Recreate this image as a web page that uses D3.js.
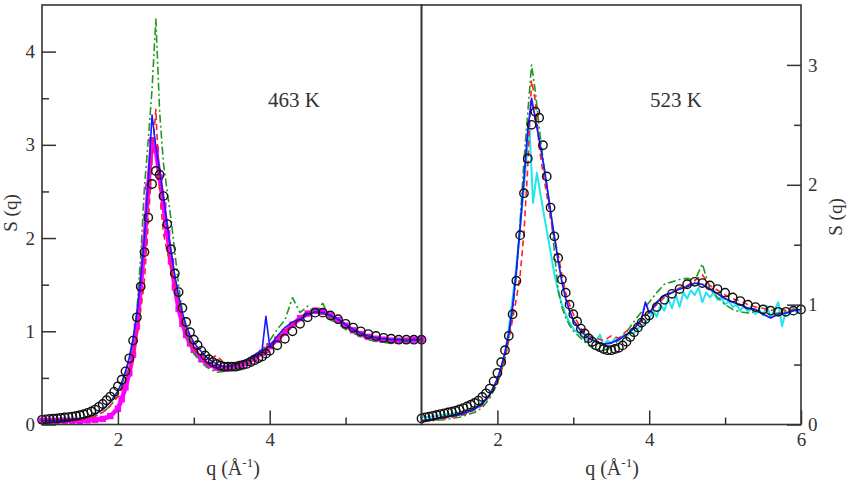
<!DOCTYPE html>
<html>
<head>
<meta charset="utf-8">
<title>S(q) 463 K / 523 K</title>
<style>
  body { margin: 0; background: #fff; }
  text { font-family: "Liberation Serif", "Times New Roman", Times, Tinos, "DejaVu Serif", "Noto Serif", serif; fill: #333; }
</style>
</head>
<body>
<script src="https://d3js.org/d3.v7.min.js"></script>
<script>
// q grids (1/A)
const qCirc = [1.00,1.05,1.10,1.15,1.20,1.25,1.30,1.35,1.40,1.45,1.50,1.55,1.60,1.65,1.70,1.75,1.80,1.85,1.90,1.95,
  2.00,2.05,2.10,2.15,2.20,2.25,2.30,2.35,2.40,2.45,2.50,2.55,2.60,2.65,2.70,2.75,2.80,2.85,2.90,2.95,3.00,
  3.05,3.10,3.15,3.20,3.25,3.30,3.35,3.40,3.45,3.50,3.55,3.60,3.65,3.70,3.75,3.80,3.85,3.90,3.95,4.00,
  4.1,4.2,4.3,4.4,4.5,4.6,4.7,4.8,4.9,5.0,5.1,5.2,5.3,5.4,5.5,5.6,5.7,5.8,5.9,6.0];
const qLine = [1.0,1.1,1.2,1.3,1.4,1.5,1.6,1.7,1.8,1.9,2.0,
  2.05,2.1,2.15,2.2,2.25,2.3,2.35,2.4,2.45,2.5,
  2.55,2.6,2.65,2.7,2.75,2.8,2.85,2.9,2.95,3.0,
  3.1,3.2,3.3,3.4,3.5,3.6,3.7,3.8,3.9,3.95,
  4.0,4.1,4.2,4.3,4.4,4.5,4.6,4.7,4.8,4.9,5.0,
  5.1,5.2,5.3,5.4,5.5,5.6,5.7,5.8,5.9,6.0];
const qCyan = [1.0,1.1,1.2,1.3,1.4,1.5,1.6,1.7,1.8,1.9,2.0,
  2.05,2.1,2.15,2.2,2.25,2.3,2.35,2.42,2.47,2.52,
  2.56,2.6,2.65,2.7,2.75,2.8,2.85,2.9,2.95,3.0,
  3.05,3.1,3.15,3.2,3.25,3.3,3.35,3.4,3.45,3.5,
  3.55,3.6,3.65,3.7,3.75,3.8,3.85,3.9,3.95,4.0,
  4.05,4.1,4.15,4.2,4.25,4.3,4.35,4.4,4.45,4.5,
  4.55,4.6,4.65,4.7,4.75,4.8,4.85,4.9,4.95,5.0,
  5.05,5.1,5.15,5.2,5.25,5.3,5.35,5.4,5.45,5.5,
  5.55,5.6,5.65,5.7,5.75,5.8,5.85,5.9,5.95,6.0];

// 463 K
const circ463 = [0.05,0.055,0.06,0.062,0.065,0.07,0.075,0.08,0.085,0.092,
  0.10,0.11,0.125,0.14,0.16,0.19,0.22,0.26,0.30,0.35,
  0.41,0.48,0.57,0.71,0.90,1.15,1.48,1.85,2.22,2.58,
  2.72,2.68,2.45,2.15,1.88,1.62,1.42,1.25,1.10,0.99,0.91,
  0.85,0.79,0.74,0.70,0.67,0.65,0.63,0.62,0.62,0.62,
  0.62,0.63,0.64,0.65,0.67,0.69,0.71,0.73,0.76,0.79,
  0.85,0.92,1.00,1.08,1.15,1.20,1.20,1.17,1.13,1.08,
  1.04,1.00,0.97,0.95,0.93,0.92,0.91,0.91,0.91,0.91];
const magenta463 = [0.04,0.04,0.04,0.04,0.04,0.04,0.045,0.05,0.06,0.09,0.17,
  0.27,0.4,0.55,0.75,1.05,1.45,1.95,2.55,3.05,2.95,
  2.65,2.35,2.05,1.75,1.47,1.24,1.08,0.96,0.87,0.8,
  0.7,0.64,0.61,0.6,0.61,0.63,0.66,0.71,0.77,0.8,
  0.84,0.91,0.99,1.07,1.14,1.19,1.22,1.21,1.17,1.12,1.06,
  1.01,0.97,0.94,0.92,0.91,0.9,0.9,0.9,0.91,0.91];
const blue463 = [0.04,0.04,0.045,0.05,0.055,0.065,0.08,0.11,0.16,0.24,0.36,
  0.45,0.57,0.72,0.92,1.18,1.55,2.0,2.62,3.32,2.98,
  2.72,2.44,2.14,1.86,1.6,1.38,1.2,1.06,0.96,0.88,
  0.78,0.7,0.65,0.62,0.63,0.66,0.7,0.75,0.8,1.16,
  0.84,0.95,1.04,1.1,1.13,1.18,1.21,1.2,1.17,1.13,1.07,
  1.02,0.98,0.95,0.93,0.92,0.91,0.91,0.9,0.91,0.91];
const red463 = [0.04,0.04,0.04,0.045,0.05,0.055,0.065,0.09,0.13,0.2,0.3,
  0.38,0.47,0.58,0.72,0.95,1.22,1.55,2.15,2.85,3.38,
  2.5,2.05,1.85,1.68,1.48,1.3,1.13,0.99,0.88,0.8,
  0.76,0.7,0.74,0.66,0.63,0.65,0.69,0.73,0.78,0.8,
  0.84,0.92,1.0,1.07,1.13,1.18,1.2,1.19,1.16,1.12,1.07,
  1.02,0.98,0.95,0.93,0.92,0.91,0.91,0.91,0.91,0.91];
const green463 = [0.04,0.04,0.045,0.05,0.055,0.06,0.07,0.09,0.13,0.2,0.32,
  0.42,0.54,0.7,0.92,1.22,1.8,2.55,3.05,3.6,4.35,
  3.35,2.8,2.5,2.2,1.85,1.5,1.2,1.0,0.86,0.76,
  0.66,0.6,0.56,0.57,0.58,0.61,0.66,0.72,0.79,0.84,
  0.9,1.02,1.12,1.36,1.2,1.27,1.2,1.3,1.12,1.08,1.02,
  0.98,0.94,0.91,0.89,0.88,0.87,0.88,0.89,0.9,0.9];

// 523 K
const circ523 = [0.05,0.06,0.065,0.072,0.08,0.087,0.093,0.10,0.107,0.115,
  0.125,0.137,0.15,0.165,0.18,0.20,0.23,0.26,0.30,0.36,
  0.43,0.52,0.62,0.74,0.92,1.20,1.58,1.93,2.22,2.50,
  2.61,2.56,2.33,2.07,1.81,1.57,1.39,1.21,1.10,1.00,0.92,
  0.86,0.80,0.76,0.72,0.69,0.66,0.645,0.63,0.62,0.62,
  0.63,0.64,0.66,0.69,0.73,0.77,0.81,0.85,0.88,0.91,
  0.98,1.04,1.09,1.13,1.17,1.19,1.18,1.16,1.13,1.10,
  1.06,1.03,1.00,0.98,0.96,0.95,0.94,0.94,0.95,0.96];
const cyan523 = [0.06,0.065,0.07,0.08,0.09,0.1,0.12,0.14,0.18,0.25,0.37,
  0.47,0.6,0.8,1.05,1.32,1.65,1.98,2.5,1.85,2.1,
  1.95,1.8,1.62,1.44,1.26,1.12,1.0,0.92,0.85,0.8,
  0.77,0.75,0.72,0.7,0.74,0.69,0.75,0.66,0.7,0.68,
  0.72,0.7,0.74,0.73,0.77,0.76,0.8,0.82,0.86,0.88,
  0.95,0.9,1.0,0.95,1.05,0.97,1.08,0.98,1.1,1.05,
  1.12,1.08,1.14,1.02,1.1,1.06,1.1,1.04,1.06,1.0,
  1.03,0.98,1.0,0.95,0.99,0.94,0.97,0.92,0.96,0.91,
  0.99,0.9,0.95,1.02,0.82,0.94,0.92,0.98,0.93,0.95];
const blue523 = [0.03,0.04,0.05,0.06,0.07,0.08,0.1,0.13,0.17,0.25,0.38,
  0.48,0.6,0.76,0.98,1.28,1.65,2.05,2.45,2.72,2.55,
  2.38,2.2,2.0,1.78,1.57,1.37,1.19,1.05,0.95,0.87,
  0.78,0.72,0.69,0.67,0.68,0.71,0.75,0.8,0.88,1.02,
  0.93,1.02,1.08,1.1,1.13,1.15,1.18,1.17,1.13,1.09,1.05,
  1.02,1.0,0.97,0.96,0.92,0.89,0.92,0.93,0.95,0.96];
const red523 = [0.03,0.035,0.04,0.05,0.06,0.07,0.09,0.12,0.16,0.24,0.35,
  0.44,0.55,0.7,0.88,1.05,1.25,1.6,2.15,2.87,2.7,
  2.32,2.1,1.92,1.72,1.56,1.42,1.25,1.1,1.0,0.92,
  0.8,0.74,0.72,0.7,0.74,0.72,0.78,0.8,0.86,0.9,
  0.94,1.0,1.06,1.1,1.14,1.16,1.2,1.25,1.16,1.12,1.08,
  1.05,1.03,1.0,0.98,0.97,0.95,0.97,0.95,0.96,0.97];
const green523 = [0.03,0.03,0.035,0.04,0.05,0.06,0.08,0.1,0.14,0.22,0.34,
  0.44,0.55,0.72,0.95,1.25,1.7,2.2,2.6,3.0,2.78,
  2.48,2.22,2.0,1.78,1.45,1.12,0.98,0.89,0.83,0.78,
  0.72,0.66,0.62,0.62,0.64,0.71,0.77,0.86,0.94,0.98,
  1.02,1.1,1.17,1.19,1.21,1.22,1.2,1.34,1.13,1.06,1.0,
  0.96,0.94,0.93,0.94,0.93,0.92,0.93,0.94,0.95,0.96];

// ticks
const xTicks463 = [2, 4];
const xTicks523 = [2, 4, 6];
const xMinor = [3, 5];
const yTicks463 = [0, 1, 2, 3, 4];
const yMinor463 = [0.5, 1.5, 2.5, 3.5];
const yTicks523 = [0, 1, 2, 3];
const yMinor523 = [0.5, 1.5, 2.5];

const width = 848;
const height = 490;
const plotTop = 5;
const plotBottom = 424.5;
const axisColor = "#333";
const serif = '"Liberation Serif", "Times New Roman", Times, Tinos, "DejaVu Serif", "Noto Serif", serif';

var svg = d3.select("body")
    .append("svg")
    .attr("width", width)
    .attr("height", height);

var xL = d3.scaleLinear().domain([1, 6]).range([42, 421.5]);
var yL = d3.scaleLinear().domain([0, 4.5]).range([plotBottom, plotTop]);
var xR = d3.scaleLinear().domain([1, 6]).range([421.5, 801]);
var yR = d3.scaleLinear().domain([0, 3.5]).range([plotBottom, plotTop]);

function addLine(x, y, q, s, color, w, dash) {
    svg.append("path")
        .datum(s)
        .attr("d", d3.line().x(function(d, i) { return x(q[i]); }).y(function(d) { return y(d); }))
        .attr("fill", "none")
        .attr("stroke", color)
        .attr("stroke-width", w)
        .attr("stroke-linejoin", "round")
        .attr("stroke-dasharray", dash || null);
}

function addCircles(x, y, q, s) {
    svg.append("g")
        .selectAll("circle")
        .data(s)
        .enter()
        .append("circle")
        .attr("cx", function(d, i) { return x(q[i]); })
        .attr("cy", function(d) { return y(d); })
        .attr("r", 4.2)
        .attr("fill", "none")
        .attr("stroke", "#111")
        .attr("stroke-width", 1.4);
}

function styleAxis(g, fs) {
    g.attr("font-family", null);
    g.select(".domain").remove();
    g.selectAll(".tick line").attr("stroke", axisColor).attr("stroke-width", 1.5);
    g.selectAll(".tick text")
        .style("font-family", serif)
        .style("font-size", fs + "px")
        .attr("fill", axisColor);
}

// ---- 463 K panel ----
addLine(xL, yL, qLine, magenta463, "#ff00ff", 4.5);
svg.append("g")
    .selectAll("rect")
    .data(magenta463)
    .enter()
    .append("rect")
    .attr("x", function(d, i) { return xL(qLine[i]) - 3.2; })
    .attr("y", function(d) { return yL(d) - 3.2; })
    .attr("width", 6.4)
    .attr("height", 6.4)
    .attr("fill", "#ff00ff");
addLine(xL, yL, qLine, green463, "#1f9a1f", 1.6, "8,3,2,3");
addLine(xL, yL, qLine, red463, "#ff2020", 1.6, "6,4");
addLine(xL, yL, qLine, blue463, "#1a1aff", 1.6);
addCircles(xL, yL, qCirc, circ463);

// ---- 523 K panel ----
addLine(xR, yR, qCyan, cyan523, "#22e5f0", 2);
addLine(xR, yR, qLine, green523, "#1f9a1f", 1.6, "8,3,2,3");
addLine(xR, yR, qLine, red523, "#ff2020", 1.6, "6,4");
addLine(xR, yR, qLine, blue523, "#1a1aff", 1.8);
addCircles(xR, yR, qCirc, circ523);

// ---- axes ----
svg.append("g")
    .attr("transform", "translate(0," + plotBottom + ")")
    .call(d3.axisBottom(xL).tickValues(xTicks463).tickSize(-14).tickPadding(8).tickFormat(d3.format("d")))
    .call(styleAxis, 19);
svg.append("g")
    .attr("transform", "translate(0," + plotBottom + ")")
    .call(d3.axisBottom(xL).tickValues(xMinor).tickSize(-7).tickFormat(""))
    .call(styleAxis, 19);
svg.append("g")
    .attr("transform", "translate(0," + plotBottom + ")")
    .call(d3.axisBottom(xR).tickValues(xTicks523).tickSize(-14).tickPadding(8).tickFormat(d3.format("d")))
    .call(styleAxis, 19);
svg.append("g")
    .attr("transform", "translate(0," + plotBottom + ")")
    .call(d3.axisBottom(xR).tickValues(xMinor).tickSize(-7).tickFormat(""))
    .call(styleAxis, 19);

svg.append("g")
    .attr("transform", "translate(42,0)")
    .call(d3.axisLeft(yL).tickValues(yTicks463).tickSize(-14).tickPadding(7).tickFormat(d3.format("d")))
    .call(styleAxis, 19);
svg.append("g")
    .attr("transform", "translate(42,0)")
    .call(d3.axisLeft(yL).tickValues(yMinor463).tickSize(-7).tickFormat(""))
    .call(styleAxis, 19);
svg.append("g")
    .attr("transform", "translate(801,0)")
    .call(d3.axisRight(yR).tickValues(yTicks523).tickSize(-14).tickPadding(7).tickFormat(d3.format("d")))
    .call(styleAxis, 19);
svg.append("g")
    .attr("transform", "translate(801,0)")
    .call(d3.axisRight(yR).tickValues(yMinor523).tickSize(-7).tickFormat(""))
    .call(styleAxis, 19);

// frames
svg.append("rect")
    .attr("x", 42).attr("y", plotTop)
    .attr("width", 421.5 - 42).attr("height", plotBottom - plotTop)
    .attr("fill", "none").attr("stroke", axisColor).attr("stroke-width", 1.6);
svg.append("rect")
    .attr("x", 421.5).attr("y", plotTop)
    .attr("width", 801 - 421.5).attr("height", plotBottom - plotTop)
    .attr("fill", "none").attr("stroke", axisColor).attr("stroke-width", 1.6);

// labels
svg.append("text")
    .attr("transform", "translate(11,213) rotate(-90)")
    .attr("text-anchor", "middle")
    .attr("dy", "0.32em")
    .style("font-family", serif)
    .style("font-size", "19px")
    .text("S (q)");
svg.append("text")
    .attr("transform", "translate(836,217) rotate(-90)")
    .attr("text-anchor", "middle")
    .attr("dy", "0.32em")
    .style("font-family", serif)
    .style("font-size", "19px")
    .text("S (q)");

function qLabel(cx) {
    var t = svg.append("text")
        .attr("x", cx)
        .attr("y", 475)
        .attr("text-anchor", "middle")
        .style("font-family", serif)
        .style("font-size", "20px");
    t.append("tspan").text("q (Å");
    t.append("tspan").attr("dy", -8).style("font-size", "13px").text("-1");
    t.append("tspan").attr("dy", 8).text(")");
}
qLabel(233);
qLabel(612);

svg.append("text").attr("x", 268).attr("y", 107)
    .style("font-family", serif).style("font-size", "21px").text("463 K");
svg.append("text").attr("x", 650).attr("y", 107)
    .style("font-family", serif).style("font-size", "21px").text("523 K");
</script>
</body>
</html>
